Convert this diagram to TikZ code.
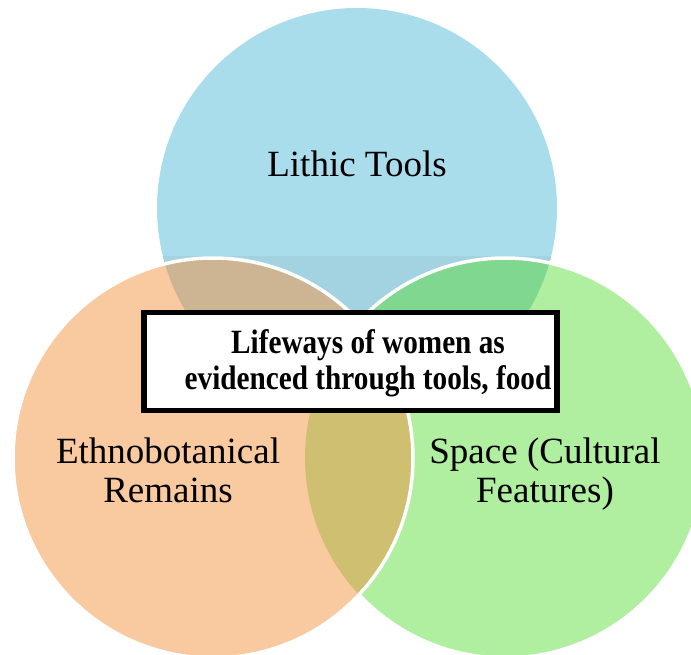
\documentclass[tikz,border=0pt]{standalone}
\usepackage{fontspec}
\setmainfont{Liberation Serif}
\newfontfamily\boxfont{Liberation Serif}[FakeStretch=0.86]
\definecolor{blueC}{HTML}{AADDEC}
\definecolor{blueD}{HTML}{A3D2E0}
\definecolor{orangeC}{HTML}{F9C9A0}
\definecolor{greenC}{HTML}{B0EEA0}
\definecolor{blueOrange}{HTML}{CDB493}
\definecolor{blueGreen}{HTML}{80D890}
\definecolor{orangeGreen}{HTML}{CFBF70}
\tikzset{
  rim/.style={draw=white, line width=3.5pt},
  setlabel/.style={font=\fontsize{37}{39}\selectfont, align=center, text=black},
  focusbox/.style={draw=black, line width=5.5pt, fill=white},
  focustext/.style={font=\boxfont\bfseries\fontsize{34}{36}\selectfont, align=center, text=black}
}
\begin{document}
\begin{tikzpicture}[x=1pt, y=-1pt]
\useasboundingbox (0,0) rectangle (691,655);
\coordinate (B) at (357,208);
\coordinate (O) at (213,458);
\coordinate (G) at (505,458);
\def\R{200}

% lithic tools set
\fill[blueC] (B) circle (\R);
\begin{scope}
  \clip (B) circle (\R);
  \fill[blueD] (0,256) rectangle (691,655);
\end{scope}

% space set, with its overlap on the tools set
\fill[greenC] (G) circle (\R);
\begin{scope}
  \clip (B) circle (\R);
  \fill[blueGreen] (G) circle (\R);
\end{scope}
\draw[rim] (G) circle (\R);

% ethnobotanical set, with its overlaps
\fill[orangeC] (O) circle (\R);
\begin{scope}
  \clip (B) circle (\R);
  \fill[blueOrange] (O) circle (\R);
\end{scope}
\begin{scope}
  \clip (G) circle (\R);
  \fill[orangeGreen] (O) circle (\R);
\end{scope}
\draw[rim] (O) circle (\R);

% set labels (base anchor sits on the last line)
\node[setlabel, anchor=base] (lithic) at (357,177) {Lithic Tools};
\node[setlabel, anchor=base] (ethno) at (168,502) {Ethnobotanical\\Remains};
\node[setlabel, anchor=base] (space) at (545,502) {Space (Cultural\\Features)};

% central focus
\draw[focusbox] (144,312.5) rectangle (557,410.5);
\node[focustext] (focus) at (368,363) {Lifeways of women as\\evidenced through tools, food};
\end{tikzpicture}
\end{document}
